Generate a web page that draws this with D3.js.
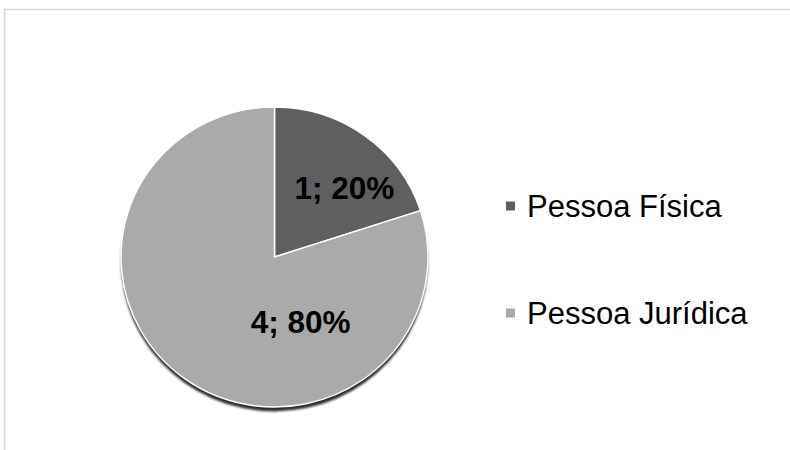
<!DOCTYPE html>
<html><head><meta charset="utf-8">
<script src="https://cdn.jsdelivr.net/npm/d3@7"></script>
<style>body{margin:0;background:#fff}svg{display:block}</style>
</head><body>
<svg id="c" width="790" height="450"></svg>
<script>
const categories = ["Pessoa Física", "Pessoa Jurídica"];
const values = [1, 4];
const percentLabels = ["20%", "80%"];
const colors = ["#5f5f5f", "#aaaaaa"];

const svg = d3.select("#c");
// chart area border
svg.append("rect").attr("x", 4.5).attr("y", 9.5).attr("width", 800).attr("height", 460)
  .attr("fill", "none").attr("stroke", "#d9d9d9").attr("stroke-width", 1.5);

const cx = 274.5, cy = 257, rx = 153.5, ry = 150;
const R = rx;
const defs = svg.append("defs");
const f = defs.append("filter").attr("id", "sh").attr("x", "-10%").attr("y", "-10%").attr("width", "120%").attr("height", "120%");
f.append("feGaussianBlur").attr("stdDeviation", 1.3);

const pie = d3.pie().sort(null).value(d => d);
const arcs = pie(values);
const arc = d3.arc().innerRadius(0).outerRadius(R);

const g = svg.append("g").attr("transform", `translate(${cx},${cy}) scale(1,${ry/rx})`);
// shadow
g.append("g").attr("transform", "translate(0,4.5)").attr("filter", "url(#sh)")
  .selectAll("path").data(arcs).join("path").attr("d", arc).attr("fill", "#2e2e2e");
g.selectAll("path.s").data(arcs).join("path").attr("class", "s")
  .attr("d", arc).attr("fill", (d, i) => colors[i])
  .attr("stroke", "#fff").attr("stroke-width", 1.5);

// labels (positions relative to center, in radius units)
const labelPos = [[0.455, -0.46], [0.17, 0.43]];
svg.selectAll("text.lab").data(arcs).join("text").attr("class", "lab")
  .attr("x", (d, i) => cx + labelPos[i][0] * rx)
  .attr("y", (d, i) => cy + labelPos[i][1] * ry)
  .attr("text-anchor", "middle").attr("dominant-baseline", "central")
  .attr("font-family", "Liberation Sans, Arial, sans-serif").attr("font-weight", "bold")
  .attr("font-size", 31.5).attr("fill", "#000")
  .text((d, i) => `${values[i]}; ${percentLabels[i]}`);

// legend
const y = d3.scalePoint().domain(categories).range([206, 313]);
const lg = svg.selectAll("g.lg").data(categories).join("g").attr("class", "lg")
  .attr("transform", d => `translate(506,${y(d)})`);
lg.append("rect").attr("x", 0).attr("y", -4.5).attr("width", 9).attr("height", 9)
  .attr("fill", (d, i) => colors[i]);
lg.append("text").attr("x", 21).attr("y", 0).attr("dominant-baseline", "central")
  .attr("font-family", "Liberation Sans, Arial, sans-serif").attr("font-size", 31).attr("fill", "#000")
  .text(d => d);
</script>
</body></html>
